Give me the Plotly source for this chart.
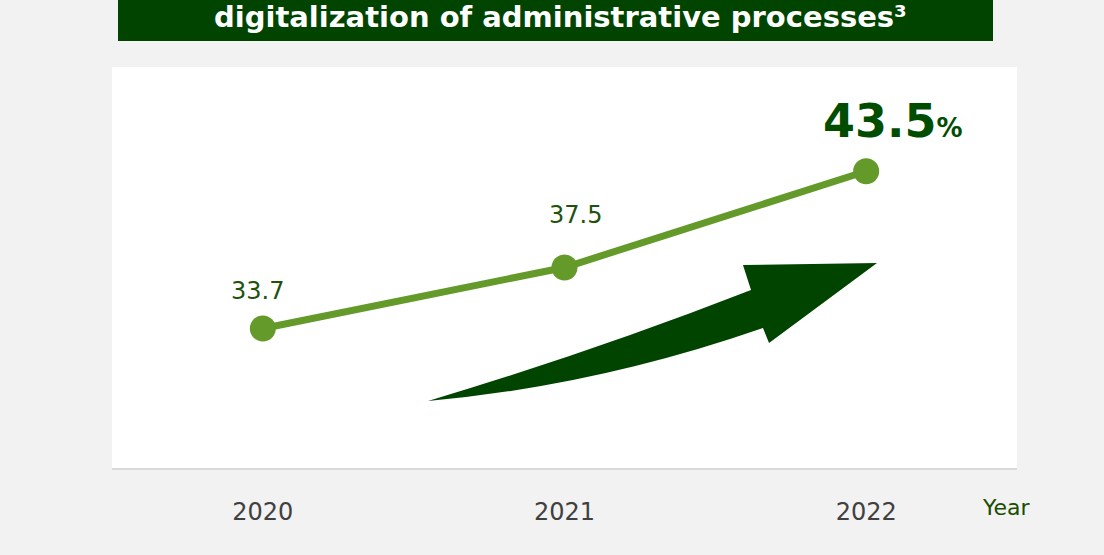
import plotly.graph_objects as go

# data
years = [2020, 2021, 2022]
shares = [33.7, 37.5, 43.5]
tick_labels = ["2020", "2021", "2022"]
title_text = "digitalization of administrative processes³"

W, H = 1104, 555
L, R, T, B = 112, 87, 67, 87
PW, PH = W - L - R, H - T - B

DARK = "#004400"
LINE = "#639a2a"
LABEL = "#1f520c"
FONT = "DejaVu Sans, Verdana, sans-serif"


def px(x, y):
    # pixel -> paper coordinates
    return (x - L) / PW, (H - B - y) / PH


def path(cmds):
    out = []
    for c in cmds:
        if isinstance(c, str):
            out.append(c)
        else:
            a, b = px(*c)
            out.append(f"{a:.4f},{b:.4f}")
    return " ".join(out)


fig = go.Figure()
fig.add_trace(go.Scatter(
    x=years, y=shares, mode="lines+markers",
    line=dict(color=LINE, width=7),
    marker=dict(color=LINE, size=26),
    hoverinfo="skip", showlegend=False,
))

# curved arrow decoration
arrow = path(["M", (428, 401), "Q", (592, 352), (751, 290), "L", (743, 265),
              "L", (877, 263), "L", (769, 343), "L", (763, 328),
              "Q", (596, 386), (428, 401), "Z"])
shapes = [
    dict(type="path", xref="paper", yref="paper", path=arrow,
         fillcolor=DARK, line=dict(width=0), layer="above"),
]
x0, y0 = px(118, 41)
x1, y1 = px(993, 0)
shapes.append(dict(type="rect", xref="paper", yref="paper", x0=x0, y0=y0, x1=x1, y1=y1,
                   fillcolor=DARK, line=dict(width=0), layer="below"))

annotations = []
tx, ty = px(560, 17)
annotations.append(dict(xref="paper", yref="paper", x=tx, y=ty, showarrow=False,
                        text=f"<b>{title_text}</b>", xanchor="center", yanchor="middle",
                        font=dict(family=FONT, size=29, color="white")))

offsets = [(-5, 37), (11, 53)]
for yr, v, (dx, dy) in zip(years[:2], shares[:2], offsets):
    annotations.append(dict(x=yr, y=v, text=f"{v}", showarrow=False,
                            xshift=dx, yshift=dy, yanchor="middle",
                            font=dict(family=FONT, size=24, color=LABEL)))
annotations.append(dict(x=years[2], y=shares[2], showarrow=False, xshift=27, yshift=50,
                        yanchor="middle",
                        text=f"<b>{shares[2]}</b><b><span style='font-size:26px'>%</span></b>",
                        font=dict(family=FONT, size=46, color="#004d00")))
yx, yy = px(1006, 507)
annotations.append(dict(xref="paper", yref="paper", x=yx, y=yy, text="Year", showarrow=False,
                        xanchor="center", yanchor="middle",
                        font=dict(family=FONT, size=22, color="#1a4d00")))

fig.update_layout(
    width=W, height=H,
    margin=dict(l=L, r=R, t=T, b=B, pad=0),
    paper_bgcolor="#f2f2f2", plot_bgcolor="white",
    shapes=shapes, annotations=annotations,
    xaxis=dict(range=[2019.5, 2022.5], tickvals=years, ticktext=tick_labels,
               showgrid=False, zeroline=False, showline=True, linecolor="#d9d9d9",
               linewidth=2, ticks="", ticklabelstandoff=21,
               tickfont=dict(family=FONT, size=24, color="#404040"), fixedrange=True),
    yaxis=dict(range=[25, 50], visible=False, fixedrange=True),
    font=dict(family=FONT),
)

fig.write_html("out.html", config={"displayModeBar": False},
               post_script="document.body.style.margin='0';")
